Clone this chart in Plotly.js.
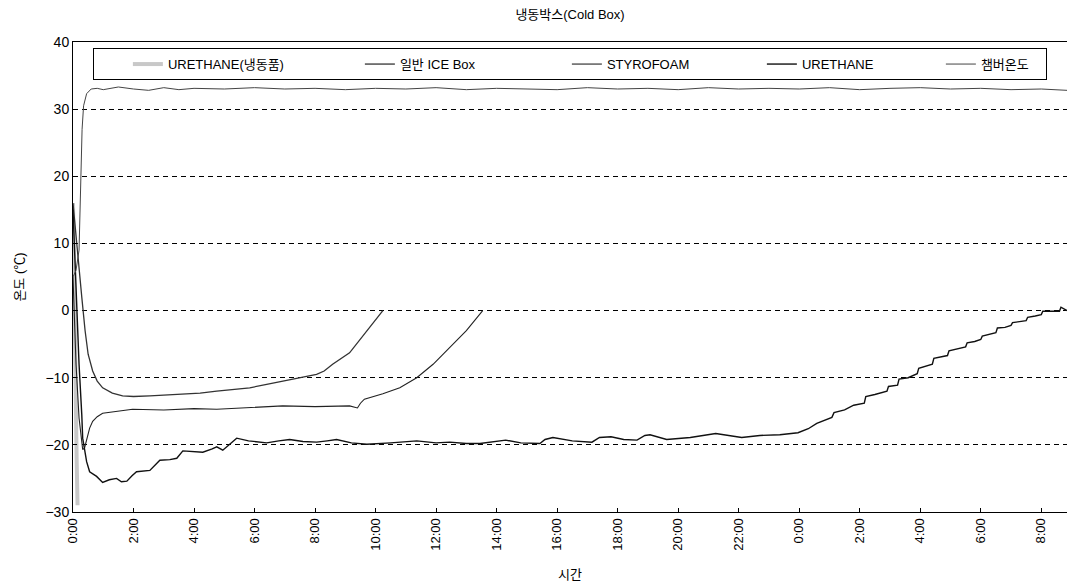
<!DOCTYPE html>
<html><head><meta charset="utf-8">
<script src="https://cdn.plot.ly/plotly-3.0.1.min.js"></script>
<style>html,body{margin:0;padding:0;background:#fff}</style>
</head><body><div id="chart" style="width:1067px;height:586px"></div>
<script>
// Series names
const seriesNames = ['URETHANE(냉동품)', '일반 ICE Box', 'STYROFOAM', 'URETHANE', '챔버온도'];

// X tick labels (hours)
const tickHours = [0,2,4,6,8,10,12,14,16,18,20,22,24,26,28,30,32];
const tickLabels = ['0:00','2:00','4:00','6:00','8:00','10:00','12:00','14:00','16:00','18:00','20:00','22:00','0:00','2:00','4:00','6:00','8:00'];

// URETHANE(냉동품) (only initial readings)
const frozenT = [0, 0.03, 0.06, 0.09, 0.12, 0.15];
const frozenV = [16, 9, 0, -12, -22, -29];

// 일반 ICE Box
const iceT = [0,0.08,0.15,0.23,0.29,0.4,0.5,0.65,0.8,0.98,1.3,1.64,2.0,2.54,3.0,3.63,4.2,4.75,5.3,5.84,6.4,6.93,7.5,8.05,8.3,8.58,9.14,9.4,9.71,10.0,10.24];
const iceV = [16,12,8,4,2,-3,-6.5,-9,-10.5,-11.5,-12.3,-12.7,-12.8,-12.7,-12.6,-12.4,-12.3,-12.0,-11.8,-11.5,-11.0,-10.5,-10.0,-9.5,-9.0,-8.0,-6.3,-4.8,-3.0,-1.5,0];

// STYROFOAM
const styT = [0,0.1,0.2,0.32,0.38,0.45,0.55,0.65,0.8,0.98,1.4,1.97,3,4,4.75,5.5,6.2,6.93,8,9.14,9.4,9.5,9.63,10.24,10.8,11.36,11.9,12.45,13.0,13.54];
const styV = [5,-8,-16,-20.7,-20.5,-19.3,-17.5,-16.5,-15.8,-15.3,-15.0,-14.7,-14.8,-14.6,-14.7,-14.5,-14.4,-14.2,-14.3,-14.2,-14.5,-13.8,-13.2,-12.4,-11.5,-10,-8.0,-5.5,-3.0,0];

// URETHANE
const uraT = [0,0.1,0.2,0.29,0.32,0.45,0.55,0.78,0.98,1.2,1.44,1.6,1.78,1.95,2.1,2.54,2.87,3.2,3.43,3.63,3.9,4.29,4.6,4.75,4.95,5.2,5.41,5.8,6.4,6.8,7.16,7.6,8.05,8.4,8.71,9.2,9.71,10.5,11.36,12,12.45,13,13.45,14.3,14.8,15.43,15.6,15.86,16.5,17.15,17.4,17.78,18.2,18.64,18.9,19.07,19.62,20.4,21.0,21.24,22.1,22.7,23.36,23.96,24.3,24.58,25.08,25.15,25.5,25.8,26.15,26.2,26.5,26.9,26.95,27.25,27.3,27.6,27.9,27.95,28.4,28.45,28.9,28.95,29.5,29.55,29.8,30.0,30.05,30.5,30.55,30.8,31.0,31.05,31.5,31.55,31.8,32.0,32.05,32.3,32.6,32.65,32.85];
const uraV = [15,3,-8,-15.5,-19,-22.5,-24,-24.7,-25.6,-25.2,-25.0,-25.5,-25.4,-24.6,-24.0,-23.8,-22.3,-22.2,-22.0,-20.9,-21.0,-21.1,-20.6,-20.3,-20.8,-19.8,-19.0,-19.4,-19.7,-19.4,-19.2,-19.5,-19.6,-19.4,-19.2,-19.7,-19.9,-19.7,-19.4,-19.7,-19.6,-19.8,-19.8,-19.3,-19.7,-19.8,-19.2,-18.9,-19.4,-19.6,-18.9,-18.8,-19.2,-19.3,-18.6,-18.5,-19.2,-18.9,-18.4,-18.3,-18.9,-18.6,-18.5,-18.2,-17.6,-16.8,-15.9,-15.2,-14.8,-14.1,-13.8,-12.8,-12.5,-12.0,-11.3,-11.1,-10.2,-10.0,-9.4,-8.6,-8.0,-7.1,-6.7,-6.0,-5.4,-4.8,-4.6,-4.3,-3.8,-3.3,-2.6,-2.5,-2.2,-1.8,-1.5,-1.0,-0.8,-0.6,-0.1,-0.1,-0.1,0.5,0.0];

// 챔버온도
const chamT = [0,0.1,0.2,0.25,0.3,0.35,0.45,0.6,0.8,1.0,1.5,2.0,2.5,3,3.5,4,5,6,7,8,9,10,11,12,13,14,15,16,17,18,19,20,21,22,23,24,25,26,27,28,29,30,31,32,32.85];
const chamV = [5,6,9,18,27,30.5,32.3,33.0,33.1,32.9,33.3,33.0,32.8,33.2,32.9,33.1,33.0,33.2,33.0,33.1,32.9,33.1,33.0,33.2,32.9,33.1,33.0,32.9,33.2,33.0,33.1,32.9,33.2,33.0,33.1,33.0,33.2,32.9,33.1,33.2,33.0,33.1,32.9,33.0,32.8];

const FONT = '"Liberation Sans Narrow","Liberation Sans","Noto Sans CJK KR",Arial,sans-serif';

const traces = [
  {x: frozenT, y: frozenV, name: seriesNames[0], mode:'lines', line:{color:'#c8c8c8', width:4}, legendwidth:153},
  {x: iceT, y: iceV, name: seriesNames[1], mode:'lines', line:{color:'#333', width:1.3}, legendwidth:128},
  {x: styT, y: styV, name: seriesNames[2], mode:'lines', line:{color:'#222', width:1.1}, legendwidth:116},
  {x: uraT, y: uraV, name: seriesNames[3], mode:'lines', line:{color:'#111', width:1.4}, legendwidth:100},
  {x: chamT, y: chamV, name: seriesNames[4], mode:'lines', line:{color:'#444', width:1}, legendwidth:60}
];

const layout = {
  width:1067, height:586,
  margin:{l:73, r:0, t:42, b:74},
  paper_bgcolor:'#fff', plot_bgcolor:'#fff',
  font:{family:FONT, color:'#000', size:13},
  showlegend:true,
  title:{text:'냉동박스(Cold Box)', xref:'paper', x:0.5, xanchor:'center', yref:'container', y:0.975, yanchor:'middle', font:{size:13, family:FONT}},
  xaxis:{range:[0,32.85], tickmode:'array', tickvals:tickHours, ticktext:tickLabels, tickangle:-90,
    ticks:'inside', ticklen:4, tickcolor:'#000', showline:true, linecolor:'#000', linewidth:1, mirror:true,
    showgrid:false, zeroline:false, tickfont:{size:13}, title:{text:'시간', font:{size:13}, standoff:20}},
  yaxis:{range:[-30,40], tickmode:'array', tickvals:[-30,-20,-10,0,10,20,30,40],
    ticks:'inside', ticklen:4, tickcolor:'#000', showline:true, linecolor:'#000', linewidth:1, mirror:true,
    showgrid:true, gridcolor:'#000', gridwidth:1, griddash:'5px,4px', zeroline:false, tickfont:{size:14},
    title:{text:'온도 (℃)', font:{size:13}, standoff:17}},
  legend:{orientation:'h', x:0.02, xanchor:'left', y:0.987, yanchor:'top', bgcolor:'#fff',
    bordercolor:'#000', borderwidth:1, font:{size:13, family:FONT}, itemwidth:30, indentation:34}
};

Plotly.newPlot('chart', traces, layout, {displayModeBar:false, staticPlot:true});
</script>
</body></html>
